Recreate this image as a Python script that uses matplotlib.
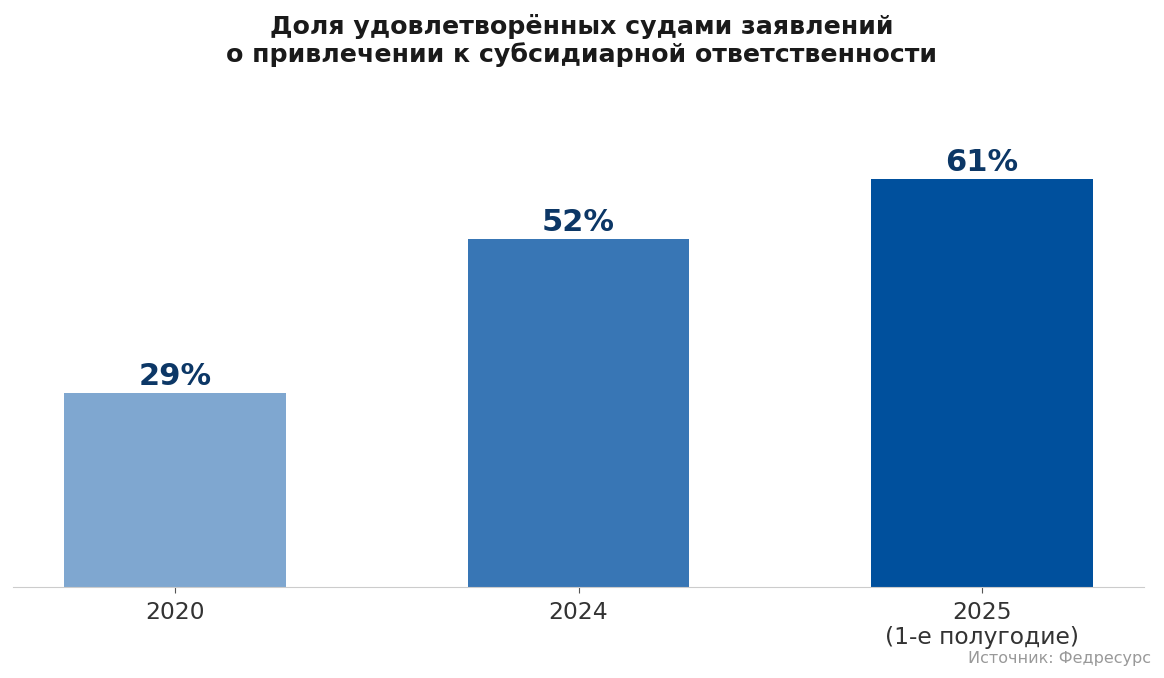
import matplotlib.pyplot as plt

categories = ["2020", "2024", "2025\n(1-е полугодие)"]
shares = [29, 52, 61]
bar_colors = ["#7fa7d0", "#3876b5", "#00509d"]

fig = plt.figure(figsize=(11.64, 6.78), dpi=100)
ax = fig.add_axes([0.011, 0.134, 0.972, 0.72])

bars = ax.bar(range(len(shares)), shares, width=0.55, color=bar_colors)
for i, v in enumerate(shares):
    ax.text(i, v + 0.4, f"{v}%", ha="center", va="bottom",
            fontsize=22, fontweight="bold", color="#0c3766")

ax.set_ylim(0, 73)
ax.set_xticks(range(len(categories)))
ax.set_xticklabels(categories, fontsize=16.8, color="#333333", linespacing=1.1)
ax.set_yticks([])
for s in ["top", "right", "left"]:
    ax.spines[s].set_visible(False)
ax.spines["bottom"].set_color("#cccccc")
ax.tick_params(axis="x", length=4, color="#555555", pad=6)

fig.suptitle("Доля удовлетворённых судами заявлений\nо привлечении к субсидиарной ответственности",
             fontsize=18.2, fontweight="bold", color="#1a1a1a", y=0.98)
fig.text(0.989, 0.018, "Источник: Федресурс", ha="right", va="bottom",
         fontsize=11.5, color="#999999")

fig.savefig("out.png", dpi=100)
